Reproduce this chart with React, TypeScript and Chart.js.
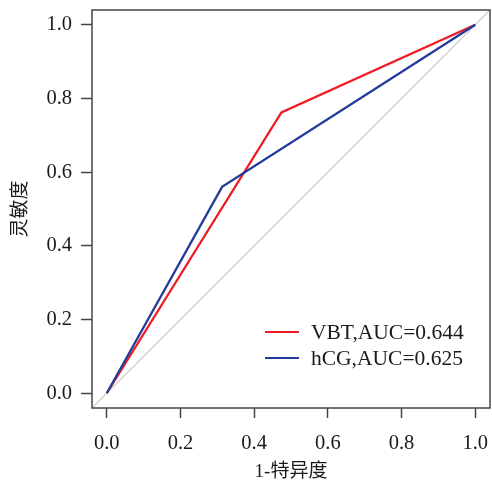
import React, { useEffect, useRef } from "react";
import { Chart, registerables } from "chart.js";

Chart.register(...registerables);

// ROC data (false positive rate = 1 - specificity, true positive rate = sensitivity)
const vbtFpr = [0, 0.474, 1];
const vbtTpr = [0, 0.762, 1];
const hcgFpr = [0, 0.313, 1];
const hcgTpr = [0, 0.56, 1];
const seriesLabels = ["VBT,AUC=0.644", "hCG,AUC=0.625"];
const tickValues = [0, 0.2, 0.4, 0.6, 0.8, 1.0];
const axisMin = -0.04;
const axisMax = 1.04;
const xTitle = "1-特异度";
const yTitle = "灵敏度";

const RED = "#ee1c25";
const BLUE = "#233c9b";
const AXIS = "#444444";
const SERIF = "'Liberation Serif', 'Times New Roman', serif";
const CJK = "'Liberation Serif', 'Noto Sans CJK SC', serif";

const boxPlugin = {
  id: "boxPlugin",
  afterDatasetsDraw(chart: any) {
    const { ctx, chartArea } = chart;
    ctx.save();
    ctx.strokeStyle = AXIS;
    ctx.lineWidth = 1.5;
    ctx.strokeRect(chartArea.left, chartArea.top, chartArea.right - chartArea.left, chartArea.bottom - chartArea.top);
    ctx.restore();
  },
};

const legendPlugin = {
  id: "legendPlugin",
  afterDraw(chart: any) {
    const { ctx, chartArea } = chart;
    const lx0 = chartArea.right - 225;
    const lx1 = chartArea.right - 191;
    const tx = chartArea.right - 179;
    const y0 = chartArea.bottom - 76;
    const dy = 26;
    ctx.save();
    chart.data.datasets.forEach((ds: any) => {
      if (!ds.showInLegend) return;
      const y = y0 + dy * ds.legendIndex;
      ctx.strokeStyle = ds.borderColor;
      ctx.lineWidth = 2;
      ctx.beginPath();
      ctx.moveTo(lx0, y);
      ctx.lineTo(lx1, y);
      ctx.stroke();
      ctx.fillStyle = "#1a1a1a";
      ctx.font = `21.5px ${SERIF}`;
      ctx.textAlign = "left";
      ctx.textBaseline = "middle";
      ctx.fillText(ds.label, tx, y + 1);
    });
    ctx.restore();
  },
};

export default function App() {
  const ref = useRef<HTMLCanvasElement | null>(null);
  useEffect(() => {
    if (!ref.current) return;
    const chart = new Chart(ref.current, {
      type: "line",
      data: {
        datasets: [
          {
            label: "diag",
            data: [
              { x: axisMin, y: axisMin },
              { x: axisMax, y: axisMax },
            ],
            borderColor: "#c8c8c8",
            borderWidth: 1.2,
            pointRadius: 0,
            order: 3,
          },
          {
            label: seriesLabels[0],
            data: vbtFpr.map((x, i) => ({ x, y: vbtTpr[i] })),
            borderColor: RED,
            borderWidth: 2.3,
            pointRadius: 0,
            order: 2,
            showInLegend: true,
            legendIndex: 0,
          } as any,
          {
            label: seriesLabels[1],
            data: hcgFpr.map((x, i) => ({ x, y: hcgTpr[i] })),
            borderColor: BLUE,
            borderWidth: 2.3,
            pointRadius: 0,
            order: 1,
            showInLegend: true,
            legendIndex: 1,
          } as any,
        ],
      },
      options: {
        animation: false,
        responsive: false,
        maintainAspectRatio: false,
        layout: { padding: { top: 10, right: 2, left: 0, bottom: 0 } },
        plugins: {
          legend: { display: false },
          tooltip: { enabled: false },
        },
        elements: { line: { tension: 0 } },
        scales: {
          x: {
            type: "linear",
            min: axisMin,
            max: axisMax,
            afterBuildTicks: (s: any) => {
              s.ticks = tickValues.map((v) => ({ value: v }));
            },
            afterFit: (s: any) => {
              s.height = 80;
              s.paddingLeft = 0;
              s.paddingRight = 0;
            },
            grid: {
              display: true,
              drawOnChartArea: false,
              drawTicks: true,
              tickLength: 10,
              tickWidth: 1.5,
              tickColor: AXIS,
            },
            border: { display: false },
            ticks: {
              padding: 13,
              color: "#1a1a1a",
              font: { family: SERIF, size: 20.5 },
              maxRotation: 0,
              callback: (v: any) => Number(v).toFixed(1),
            },
            title: {
              display: true,
              text: xTitle,
              color: "#1a1a1a",
              font: { family: CJK, size: 19 },
              padding: { top: 4, bottom: 5 },
            },
          },
          y: {
            type: "linear",
            min: axisMin,
            max: axisMax,
            afterBuildTicks: (s: any) => {
              s.ticks = tickValues.map((v) => ({ value: v }));
            },
            afterFit: (s: any) => {
              s.width = 92;
              s.paddingTop = 0;
              s.paddingBottom = 0;
            },
            grid: {
              display: true,
              drawOnChartArea: false,
              drawTicks: true,
              tickLength: 11,
              tickWidth: 1.5,
              tickColor: AXIS,
            },
            border: { display: false },
            ticks: {
              padding: 9,
              color: "#1a1a1a",
              font: { family: SERIF, size: 20.5 },
              callback: (v: any) => Number(v).toFixed(1),
            },
            title: {
              display: true,
              text: yTitle,
              color: "#1a1a1a",
              font: { family: CJK, size: 19 },
              padding: 10,
            },
          },
        },
      },
      plugins: [boxPlugin, legendPlugin],
    } as any);
    return () => chart.destroy();
  }, []);
  return (
    <div style={{ position: "fixed", left: 0, top: 0, width: 492, height: 488, background: "#fff" }}>
      <canvas ref={ref} width={492} height={488} style={{ display: "block", width: 492, height: 488 }} />
    </div>
  );
}
